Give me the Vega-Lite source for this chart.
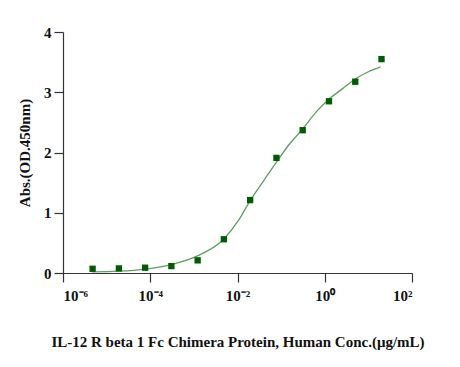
{
  "$schema": "https://vega.github.io/schema/vega-lite/v6.json",
  "autosize": "none",
  "width": 349,
  "height": 241,
  "padding": {"left": 63, "top": 32, "right": 48, "bottom": 94},
  "background": "white",
  "config": {
    "view": {"stroke": null},
    "axis": {
      "grid": false,
      "domainColor": "#333333",
      "tickColor": "#333333",
      "domainWidth": 1.2,
      "tickWidth": 1.2,
      "tickSize": 9,
      "labelFont": "Liberation Serif",
      "labelFontWeight": "bold",
      "labelColor": "#111111",
      "labelFontSize": 15,
      "titleFont": "Liberation Serif",
      "titleFontWeight": "bold",
      "titleColor": "#111111",
      "titleFontSize": 15
    }
  },
  "datasets": {
    "points": [
      {"conc": 0.00000477, "abs": 0.07},
      {"conc": 0.0000191, "abs": 0.076},
      {"conc": 0.0000763, "abs": 0.088},
      {"conc": 0.000305, "abs": 0.115},
      {"conc": 0.00122, "abs": 0.21},
      {"conc": 0.00488, "abs": 0.56},
      {"conc": 0.0195, "abs": 1.21},
      {"conc": 0.0781, "abs": 1.91},
      {"conc": 0.3125, "abs": 2.37},
      {"conc": 1.25, "abs": 2.85},
      {"conc": 5, "abs": 3.175},
      {"conc": 20, "abs": 3.55}
    ],
    "curve": [
      {"conc": 0.00000462, "abs": 0.017},
      {"conc": 0.0000186, "abs": 0.03},
      {"conc": 0.0000776, "abs": 0.066},
      {"conc": 0.000302, "abs": 0.14},
      {"conc": 0.00117, "abs": 0.28},
      {"conc": 0.00479, "abs": 0.56},
      {"conc": 0.0107, "abs": 0.88},
      {"conc": 0.0191, "abs": 1.19},
      {"conc": 0.0372, "abs": 1.5},
      {"conc": 0.0767, "abs": 1.83},
      {"conc": 0.148, "abs": 2.12},
      {"conc": 0.302, "abs": 2.38},
      {"conc": 0.668, "abs": 2.69},
      {"conc": 1.23, "abs": 2.88},
      {"conc": 2.57, "abs": 3.06},
      {"conc": 5.01, "abs": 3.22},
      {"conc": 10, "abs": 3.34},
      {"conc": 19.05, "abs": 3.42}
    ]
  },
  "layer": [
    {
      "data": {"name": "curve"},
      "mark": {"type": "line", "color": "#5f9e5f", "strokeWidth": 1.3, "interpolate": "monotone"},
      "encoding": {
        "x": {
          "field": "conc", "type": "quantitative",
          "scale": {"type": "log", "domain": [0.000001, 100]},
          "axis": {
            "values": [0.000001, 0.0001, 0.01, 1, 100],
            "title": "IL-12 R beta 1 Fc Chimera Protein, Human Conc.(μg/mL)",
            "labelExpr": "datum.value < 0.00001 ? '10⁻⁶' : datum.value < 0.001 ? '10⁻⁴' : datum.value < 0.1 ? '10⁻²' : datum.value < 10 ? '10⁰' : '10²'",
            "labelPadding": 6,
            "titlePadding": 31
          }
        },
        "y": {
          "field": "abs", "type": "quantitative",
          "scale": {"domain": [0, 4]},
          "axis": {
            "values": [0, 1, 2, 3, 4],
            "format": "d",
            "title": "Abs.(OD.450nm)",
            "labelPadding": 3,
            "titlePadding": 11
          }
        }
      }
    },
    {
      "data": {"name": "points"},
      "mark": {"type": "square", "color": "#005c00", "opacity": 1, "size": 40},
      "encoding": {
        "x": {"field": "conc", "type": "quantitative"},
        "y": {"field": "abs", "type": "quantitative"}
      }
    }
  ]
}
